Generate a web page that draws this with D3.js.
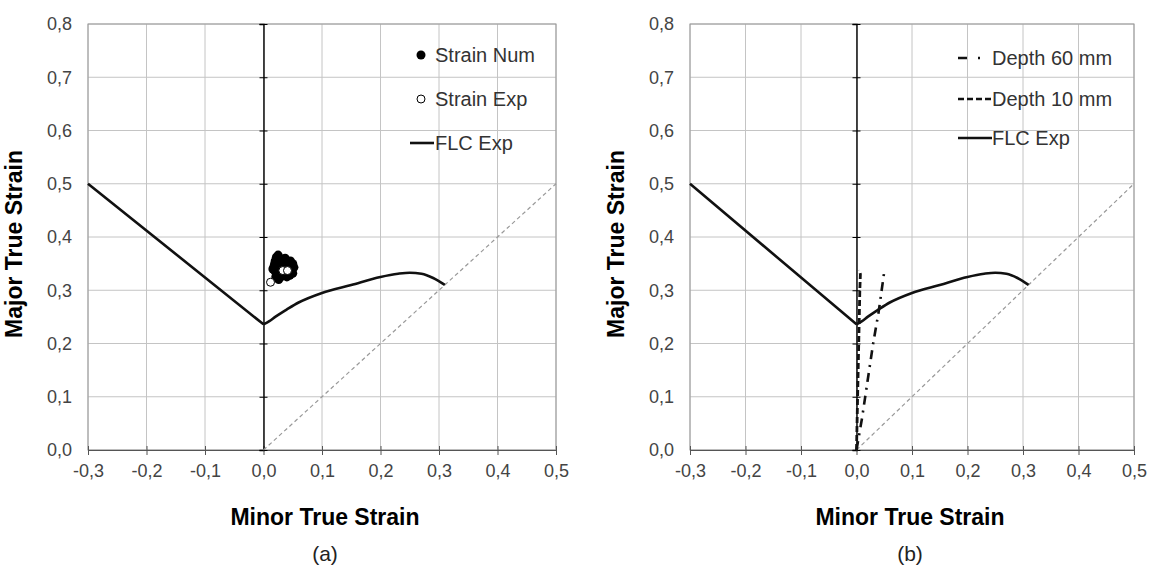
<!DOCTYPE html>
<head>
  <meta charset="utf-8">
  <script src="https://d3js.org/d3.v7.min.js"></script>
  <style>
    body { margin:0; background:#fff; }
    svg { font-family: Arial, "Liberation Sans", sans-serif; }
    .grid line { stroke:#c4c4c4; stroke-width:1; }
    .tick text { fill:#444; font-size:18px; }
  </style>
</head>
<body>
  <script>
    // tick labels use a decimal comma
    var xTicks = [-0.3, -0.2, -0.1, 0.0, 0.1, 0.2, 0.3, 0.4, 0.5];
    var yTicks = [0.0, 0.1, 0.2, 0.3, 0.4, 0.5, 0.6, 0.7, 0.8];

    // experimental forming limit curve: straight left branch, curved right branch
    var flcLeftX = [-0.3, 0.0];
    var flcLeftY = [0.5, 0.236];
    var flcRightX = [0.0, 0.01, 0.02, 0.04, 0.06, 0.1, 0.15, 0.2, 0.23, 0.25, 0.27, 0.29, 0.31];
    var flcRightY = [0.236, 0.242, 0.25, 0.264, 0.277, 0.295, 0.31, 0.325, 0.331, 0.333, 0.331, 0.323, 0.31];

    // plane-strain diagonal
    var diagX = [0.0, 0.5];
    var diagY = [0.0, 0.5];

    // (a) numerical strains
    var numX = [0.018, 0.02, 0.022, 0.025, 0.028, 0.03, 0.02, 0.023, 0.027, 0.032, 0.035, 0.038, 0.042, 0.046, 0.05, 0.052,
                0.048, 0.045, 0.04, 0.035, 0.03, 0.026, 0.033, 0.043, 0.05, 0.019, 0.024, 0.037, 0.028, 0.041, 0.016, 0.021, 0.047];
    var numY = [0.345, 0.355, 0.362, 0.366, 0.36, 0.352, 0.335, 0.328, 0.34, 0.345, 0.355, 0.35, 0.354, 0.355, 0.35, 0.343,
                0.335, 0.328, 0.325, 0.33, 0.325, 0.32, 0.338, 0.342, 0.332, 0.35, 0.35, 0.36, 0.33, 0.333, 0.34, 0.325, 0.345];
    // (a) experimental strains
    var expX = [0.012, 0.033, 0.041];
    var expY = [0.315, 0.337, 0.337];

    // (b) strain paths
    var d60X = [0.0, 0.01, 0.02, 0.03, 0.04, 0.05];
    var d60Y = [0.0, 0.06, 0.13, 0.2, 0.26, 0.335];
    var d10X = [0.0, 0.001, 0.002, 0.003, 0.004, 0.005, 0.006, 0.007, 0.005];
    var d10Y = [0.0, 0.05, 0.1, 0.15, 0.2, 0.25, 0.3, 0.33, 0.338];

    var pts = function(xs, ys) { return xs.map(function(v, i) { return [v, ys[i]]; }); };
    var comma = function(d) { return d3.format(".1f")(d).replace(".", ",").replace("\u2212", "-"); };

    var svg = d3.select("body").append("svg").attr("width", 1151).attr("height", 565);

    function panel(x0, x1, tag, cx) {
      var x = d3.scaleLinear().domain([-0.3, 0.5]).range([x0, x1]);
      var y = d3.scaleLinear().domain([0, 0.8]).range([450, 24]);
      var g = svg.append("g");

      var grid = g.append("g").attr("class", "grid");
      grid.selectAll(".v").data(xTicks).enter().append("line")
        .attr("x1", x).attr("x2", x).attr("y1", y(0)).attr("y2", y(0.8));
      grid.selectAll(".h").data(yTicks).enter().append("line")
        .attr("x1", x(-0.3)).attr("x2", x(0.5)).attr("y1", y).attr("y2", y);

      g.append("rect").attr("x", x(-0.3)).attr("y", y(0.8))
        .attr("width", x(0.5) - x(-0.3)).attr("height", y(0) - y(0.8))
        .attr("fill", "none").attr("stroke", "#999");

      // x axis along the bottom
      var xa = g.append("g").attr("transform", "translate(0," + y(0) + ")")
        .call(d3.axisBottom(x).tickValues(xTicks).tickFormat(comma).tickSize(5).tickPadding(9));
      xa.select(".domain").attr("stroke", "#555");
      xa.selectAll(".tick line").attr("stroke", "#555").attr("y1", -4);

      // y labels on the left edge, axis line at x = 0
      var ya = g.append("g").attr("transform", "translate(" + x(-0.3) + ",0)")
        .call(d3.axisLeft(y).tickValues(yTicks).tickFormat(comma).tickSize(0).tickPadding(16));
      ya.select(".domain").remove();
      var za = g.append("g").attr("transform", "translate(" + x(0) + ",0)")
        .call(d3.axisLeft(y).tickValues(yTicks).tickFormat("").tickSize(4));
      za.select(".domain").attr("stroke", "#000").attr("stroke-width", 1.4);
      za.selectAll(".tick line").attr("stroke", "#000").attr("x2", 4).attr("x1", -4);

      var line = d3.line().x(function(d) { return x(d[0]); }).y(function(d) { return y(d[1]); });
      var smooth = d3.line().x(function(d) { return x(d[0]); }).y(function(d) { return y(d[1]); })
        .curve(d3.curveMonotoneX);

      g.append("path").attr("d", line(pts(diagX, diagY)))
        .attr("fill", "none").attr("stroke", "#999").attr("stroke-width", 1.2).attr("stroke-dasharray", "4,3");

      g.append("path").attr("d", line(pts(flcLeftX, flcLeftY)) + smooth(pts(flcRightX, flcRightY)))
        .attr("fill", "none").attr("stroke", "#111").attr("stroke-width", 2.6).attr("stroke-linejoin", "round");

      g.append("text").attr("x", cx).attr("y", 525).attr("text-anchor", "middle")
        .attr("font-size", 23).attr("font-weight", "bold").text("Minor True Strain");
      g.append("text").attr("x", cx).attr("y", 561).attr("text-anchor", "middle")
        .attr("font-size", 21).attr("fill", "#222").text(tag);
      g.append("text").attr("transform", "translate(" + (x0 - 66) + ",244) rotate(-90)")
        .attr("text-anchor", "middle").attr("font-size", 23).attr("font-weight", "bold").text("Major True Strain");

      return { g: g, x: x, y: y, line: line };
    }

    // ---- (a)
    var a = panel(88, 556, "(a)", 325);
    a.g.selectAll(".num").data(pts(numX, numY)).enter().append("circle")
      .attr("cx", function(d) { return a.x(d[0]); }).attr("cy", function(d) { return a.y(d[1]); })
      .attr("r", 4.5).attr("fill", "#000");
    a.g.selectAll(".exp").data(pts(expX, expY)).enter().append("circle")
      .attr("cx", function(d) { return a.x(d[0]); }).attr("cy", function(d) { return a.y(d[1]); })
      .attr("r", 4).attr("fill", "#fff").attr("stroke", "#000").attr("stroke-width", 1);

    var la = a.g.append("g").attr("font-size", 20).attr("fill", "#333");
    la.append("circle").attr("cx", 421).attr("cy", 55).attr("r", 4.5).attr("fill", "#000");
    la.append("text").attr("x", 435).attr("y", 62).text("Strain Num");
    la.append("circle").attr("cx", 421).attr("cy", 99).attr("r", 4).attr("fill", "#fff").attr("stroke", "#000");
    la.append("text").attr("x", 435).attr("y", 106).text("Strain Exp");
    la.append("line").attr("x1", 410).attr("x2", 434).attr("y1", 143).attr("y2", 143).attr("stroke", "#111").attr("stroke-width", 2.6);
    la.append("text").attr("x", 435).attr("y", 150).text("FLC Exp");

    // ---- (b)
    var b = panel(690, 1134, "(b)", 910);
    b.g.append("path").attr("d", b.line(pts(d60X, d60Y)))
      .attr("fill", "none").attr("stroke", "#111").attr("stroke-width", 2.6).attr("stroke-dasharray", "9,6,2,6");
    b.g.append("path").attr("d", b.line(pts(d10X, d10Y)))
      .attr("fill", "none").attr("stroke", "#111").attr("stroke-width", 2.8).attr("stroke-dasharray", "6,3");

    var lb = b.g.append("g").attr("font-size", 20).attr("fill", "#333");
    lb.append("line").attr("x1", 958).attr("x2", 985).attr("y1", 58).attr("y2", 58)
      .attr("stroke", "#111").attr("stroke-width", 2.4).attr("stroke-dasharray", "9,11,2,20");
    lb.append("text").attr("x", 992).attr("y", 65).text("Depth 60 mm");
    lb.append("line").attr("x1", 958).attr("x2", 991).attr("y1", 99).attr("y2", 99)
      .attr("stroke", "#111").attr("stroke-width", 2.4).attr("stroke-dasharray", "6,3");
    lb.append("text").attr("x", 992).attr("y", 106).text("Depth 10 mm");
    lb.append("line").attr("x1", 958).attr("x2", 992).attr("y1", 138).attr("y2", 138).attr("stroke", "#111").attr("stroke-width", 2.6);
    lb.append("text").attr("x", 992).attr("y", 145).text("FLC Exp");
  </script>
</body>
